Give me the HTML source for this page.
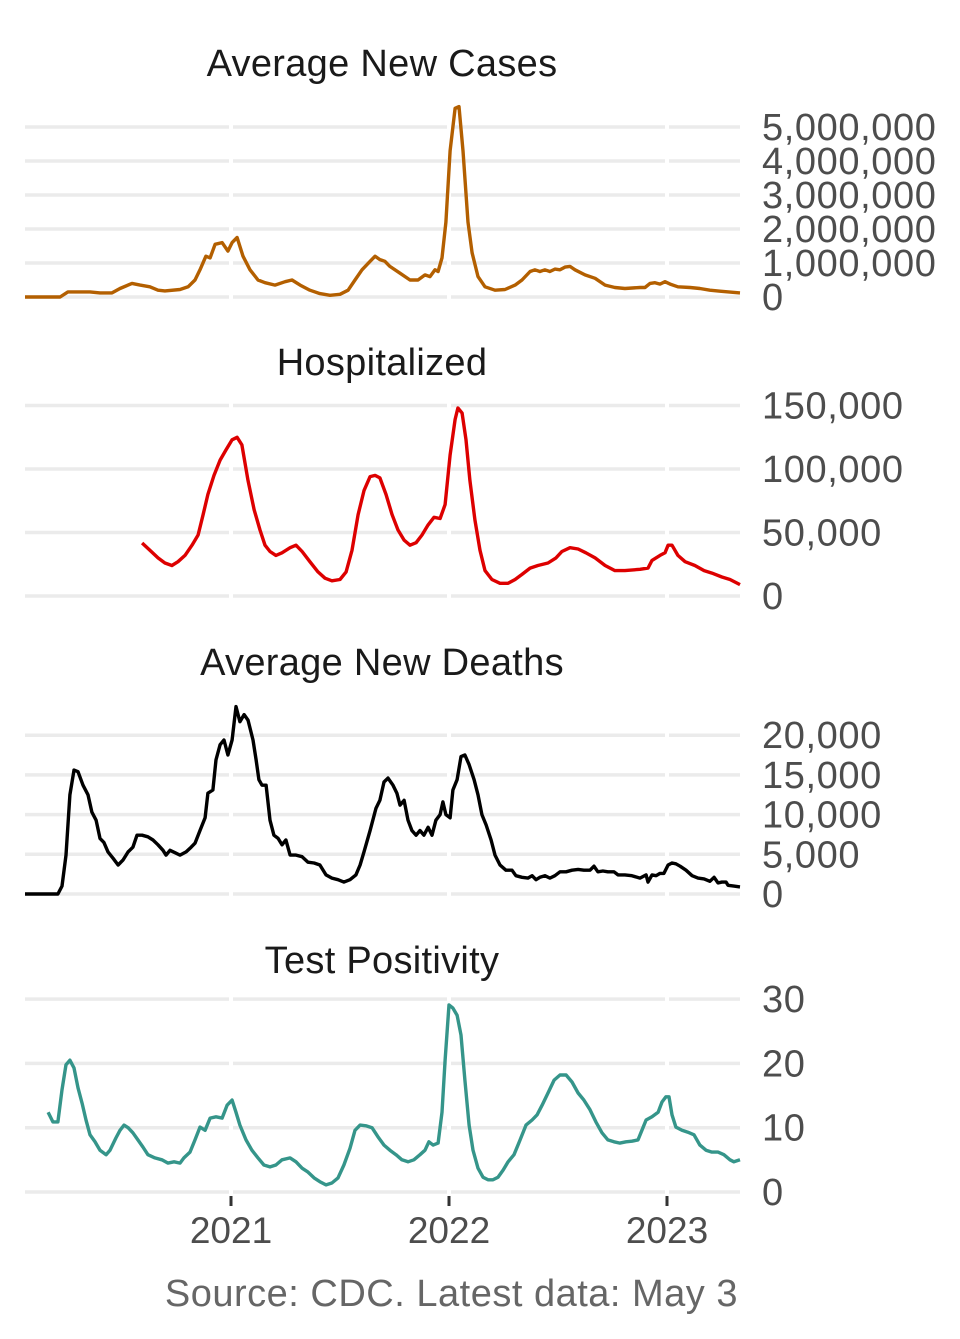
<!DOCTYPE html>
<html><head><meta charset="utf-8"><style>
html,body{margin:0;padding:0;background:#fff;}
svg{display:block;font-family:"Liberation Sans",sans-serif;}
</style></head><body>
<svg id="chart" width="960" height="1339" viewBox="0 0 960 1339" xmlns="http://www.w3.org/2000/svg"></svg>
<script>
// ---- data ----
const casesDates=[2020.055,2020.216,2020.252,2020.353,2020.399,2020.454,2020.491,2020.546,2020.583,2020.628,2020.665,2020.697,2020.766,2020.803,2020.835,2020.858,2020.885,2020.904,2020.927,2020.959,2020.986,2021.005,2021.028,2021.055,2021.087,2021.124,2021.156,2021.202,2021.248,2021.280,2021.317,2021.362,2021.408,2021.454,2021.5,2021.537,2021.569,2021.601,2021.638,2021.661,2021.683,2021.706,2021.729,2021.775,2021.821,2021.858,2021.890,2021.913,2021.936,2021.950,2021.968,2021.986,2022.005,2022.028,2022.046,2022.064,2022.087,2022.106,2022.133,2022.165,2022.211,2022.257,2022.303,2022.335,2022.372,2022.394,2022.417,2022.440,2022.463,2022.486,2022.509,2022.532,2022.555,2022.578,2022.624,2022.670,2022.716,2022.761,2022.807,2022.876,2022.899,2022.922,2022.945,2022.968,2022.991,2023.014,2023.050,2023.106,2023.151,2023.197,2023.243,2023.335];
const casesValues=[0,0,150000,150000,120000,120000,250000,400000,350000,300000,200000,180000,220000,300000,500000,800000,1200000,1150000,1550000,1600000,1350000,1600000,1750000,1200000,800000,500000,420000,350000,450000,500000,350000,200000,100000,50000,80000,200000,500000,800000,1050000,1200000,1100000,1050000,900000,700000,500000,500000,650000,600000,800000,750000,1150000,2200000,4300000,5550000,5600000,4300000,2200000,1300000,600000,300000,200000,220000,350000,500000,750000,800000,750000,800000,750000,820000,800000,880000,900000,800000,650000,550000,350000,280000,250000,280000,280000,400000,420000,380000,450000,380000,300000,280000,250000,200000,170000,120000];
const hospDates=[2020.592,2020.628,2020.665,2020.697,2020.729,2020.757,2020.789,2020.821,2020.849,2020.872,2020.894,2020.922,2020.950,2020.977,2021.005,2021.028,2021.050,2021.078,2021.106,2021.133,2021.156,2021.179,2021.206,2021.234,2021.271,2021.298,2021.326,2021.362,2021.399,2021.431,2021.463,2021.5,2021.528,2021.555,2021.583,2021.610,2021.638,2021.661,2021.683,2021.711,2021.739,2021.766,2021.794,2021.821,2021.849,2021.876,2021.904,2021.931,2021.959,2021.982,2022.005,2022.028,2022.041,2022.060,2022.078,2022.096,2022.119,2022.142,2022.165,2022.197,2022.234,2022.271,2022.303,2022.335,2022.372,2022.408,2022.454,2022.491,2022.518,2022.555,2022.592,2022.628,2022.670,2022.716,2022.761,2022.807,2022.876,2022.913,2022.931,2022.968,2022.991,2023.005,2023.023,2023.050,2023.083,2023.128,2023.170,2023.206,2023.252,2023.289,2023.335];
const hospValues=[41700,36000,30000,26000,24000,27000,32000,40000,48000,64000,80000,95000,107000,115000,123000,125000,119000,91000,68000,52000,40000,35000,32000,34000,38000,40000,35000,27000,19000,14000,12000,13000,19000,36000,64000,83000,94000,95000,93000,80000,64000,52000,44000,40000,42000,48000,56000,62000,61000,72000,111000,139000,148000,144000,123000,91000,60000,36000,20000,13000,10000,10000,13000,17000,22000,24000,26000,30000,35000,38000,37000,34000,30000,24000,20000,20000,21000,22000,28000,32000,34000,40000,40000,32000,27000,24000,20000,18000,15000,13000,9000];
const deathDates=[2020.055,2020.206,2020.225,2020.243,2020.261,2020.280,2020.298,2020.321,2020.344,2020.362,2020.381,2020.399,2020.417,2020.436,2020.459,2020.482,2020.505,2020.528,2020.550,2020.569,2020.592,2020.619,2020.642,2020.665,2020.688,2020.702,2020.720,2020.743,2020.766,2020.794,2020.817,2020.835,2020.858,2020.881,2020.894,2020.917,2020.931,2020.950,2020.968,2020.986,2021.005,2021.023,2021.041,2021.060,2021.078,2021.101,2021.115,2021.128,2021.142,2021.161,2021.179,2021.197,2021.216,2021.234,2021.252,2021.271,2021.298,2021.326,2021.353,2021.381,2021.408,2021.436,2021.463,2021.491,2021.518,2021.546,2021.573,2021.592,2021.610,2021.638,2021.665,2021.683,2021.702,2021.720,2021.743,2021.761,2021.775,2021.794,2021.812,2021.830,2021.849,2021.867,2021.885,2021.904,2021.922,2021.940,2021.959,2021.972,2021.986,2022.005,2022.018,2022.037,2022.055,2022.073,2022.092,2022.115,2022.133,2022.151,2022.170,2022.193,2022.211,2022.234,2022.261,2022.289,2022.307,2022.335,2022.362,2022.381,2022.399,2022.417,2022.440,2022.463,2022.486,2022.509,2022.537,2022.564,2022.592,2022.619,2022.647,2022.665,2022.683,2022.706,2022.729,2022.757,2022.775,2022.807,2022.839,2022.876,2022.904,2022.913,2022.931,2022.950,2022.968,2022.986,2023.005,2023.023,2023.041,2023.060,2023.087,2023.115,2023.142,2023.170,2023.197,2023.216,2023.234,2023.252,2023.271,2023.280,2023.307,2023.335];
const deathValues=[0,0,1000,4900,12500,15600,15400,13700,12500,10300,9300,7000,6500,5300,4500,3650,4300,5300,5900,7400,7400,7200,6800,6200,5500,4900,5500,5200,4900,5300,5900,6400,8000,9600,12700,13100,16900,18800,19400,17500,19400,23600,21700,22600,21900,19400,16900,14400,13700,13700,9300,7400,7000,6200,6800,4900,4900,4700,4000,3900,3650,2400,2000,1800,1500,1800,2400,3650,5300,8000,10800,11800,14100,14600,13700,12700,11200,11800,9300,8000,7400,8000,7400,8400,7400,9300,10000,11600,10000,9600,13100,14400,17300,17500,16300,14400,12500,10000,8700,6800,4900,3650,3000,3000,2300,2100,2000,2300,1800,2100,2300,2000,2300,2800,2800,3000,3100,3000,3000,3500,2800,2900,2800,2800,2400,2400,2300,2000,2400,1500,2400,2300,2600,2600,3650,3900,3800,3500,3000,2300,2000,1900,1600,2100,1400,1500,1500,1100,1000,900];
const posDates=[2020.161,2020.183,2020.206,2020.225,2020.243,2020.261,2020.280,2020.298,2020.317,2020.335,2020.353,2020.376,2020.399,2020.427,2020.445,2020.472,2020.491,2020.509,2020.528,2020.550,2020.573,2020.596,2020.619,2020.651,2020.683,2020.711,2020.739,2020.766,2020.784,2020.812,2020.835,2020.858,2020.881,2020.904,2020.931,2020.959,2020.982,2021.005,2021.023,2021.041,2021.069,2021.096,2021.124,2021.151,2021.179,2021.206,2021.234,2021.271,2021.298,2021.326,2021.353,2021.381,2021.408,2021.436,2021.463,2021.491,2021.518,2021.546,2021.569,2021.592,2021.619,2021.647,2021.674,2021.702,2021.729,2021.757,2021.784,2021.812,2021.839,2021.867,2021.890,2021.908,2021.927,2021.950,2021.968,2021.982,2022.0,2022.018,2022.037,2022.055,2022.073,2022.092,2022.110,2022.133,2022.156,2022.179,2022.202,2022.225,2022.248,2022.271,2022.298,2022.326,2022.353,2022.381,2022.404,2022.427,2022.454,2022.482,2022.509,2022.537,2022.564,2022.592,2022.619,2022.647,2022.674,2022.702,2022.729,2022.757,2022.784,2022.812,2022.839,2022.867,2022.885,2022.904,2022.931,2022.959,2022.977,2022.995,2023.009,2023.023,2023.041,2023.069,2023.096,2023.124,2023.151,2023.179,2023.206,2023.234,2023.261,2023.289,2023.307,2023.335];
const posValues=[12.4,10.9,10.9,15.9,19.8,20.5,19.3,16.2,13.8,11.2,8.9,7.8,6.5,5.8,6.5,8.4,9.6,10.4,10,9.2,8.1,7,5.8,5.3,5,4.5,4.7,4.5,5.3,6.2,8.1,10.1,9.6,11.5,11.7,11.5,13.5,14.3,12.4,10.4,8.1,6.5,5.3,4.2,3.9,4.2,5,5.3,4.7,3.7,3.1,2.2,1.6,1.1,1.4,2.2,4.2,6.8,9.6,10.4,10.3,10,8.6,7.3,6.5,5.8,5,4.7,5,5.8,6.5,7.8,7.3,7.6,12.4,20.5,29.1,28.6,27.5,24.4,17.4,10.4,6.5,3.7,2.3,1.9,1.9,2.3,3.4,4.7,5.8,8.1,10.4,11.2,12,13.5,15.4,17.4,18.2,18.2,17.1,15.4,14.3,12.8,10.9,9.2,8.1,7.8,7.6,7.8,7.9,8.1,9.6,11.2,11.7,12.4,14,14.8,14.8,12,10.1,9.6,9.3,8.9,7.3,6.5,6.2,6.2,5.8,5,4.7,5];
const casesTicks=[0,1000000,2000000,3000000,4000000,5000000];
const casesTickLabels=["0","1,000,000","2,000,000","3,000,000","4,000,000","5,000,000"];
const hospTicks=[0,50000,100000,150000];
const hospTickLabels=["0","50,000","100,000","150,000"];
const deathTicks=[0,5000,10000,15000,20000];
const deathTickLabels=["0","5,000","10,000","15,000","20,000"];
const posTicks=[0,10,20,30];
const posTickLabels=["0","10","20","30"];
const yearTicks=[2021,2022,2023];
const yearLabels=["2021","2022","2023"];

// ---- layout ----
const svg=document.getElementById('chart');
const NS='http://www.w3.org/2000/svg';
const X0=25,X1=740;
const xScale=t=>231+(t-2021)*218;
function el(tag,attrs,parent){const e=document.createElementNS(NS,tag);for(const k in attrs)e.setAttribute(k,attrs[k]);(parent||svg).appendChild(e);return e;}

function panel(key,title,titleY,zeroY,pxPerUnit,ticks,labels,dates,values,color){
  const g=el('g',{});
  
  
  const y=v=>zeroY-v*pxPerUnit;
  ticks.forEach((tv,i)=>{
    const gl=el('line',{x1:X0,x2:X1,y1:y(tv),y2:y(tv),stroke:'#ebebeb','stroke-width':3.5},g);
    
    
    const lb=el('text',{x:762,y:y(tv)+13,'font-size':38,fill:'#4d4d4d','letter-spacing':'0.6'},g);
    
    
    lb.textContent=labels[i];
  });
  yearTicks.forEach(yr=>{
    const vl=el('line',{x1:xScale(yr),x2:xScale(yr),y1:y(ticks[ticks.length-1])-6,y2:zeroY+6,stroke:'#fff','stroke-width':4},g);
    
    
  });
  const tt=el('text',{x:382,y:titleY,'font-size':38,fill:'#1a1a1a','text-anchor':'middle','letter-spacing':'0.3'},g);
  
  
  tt.textContent=title;
  const d=dates.map((t,i)=>(i?'L':'M')+xScale(t).toFixed(1)+','+y(values[i]).toFixed(1)).join('');
  const p=el('path',{d:d,fill:'none',stroke:color,'stroke-width':3.4,'stroke-linejoin':'round'},g);
  
  
}
panel('cases','Average New Cases',76,297,34/1000000,casesTicks,casesTickLabels,casesDates,casesValues,'#b35f00');
panel('hospitalized','Hospitalized',375,596,63.5/50000,hospTicks,hospTickLabels,hospDates,hospValues,'#dd0000');
panel('deaths','Average New Deaths',675,894,39.7/5000,deathTicks,deathTickLabels,deathDates,deathValues,'#000000');
panel('positivity','Test Positivity',973,1192,64.3/10,posTicks,posTickLabels,posDates,posValues,'#35958a');

yearTicks.forEach((yr,i)=>{
  const tk=el('line',{x1:xScale(yr),x2:xScale(yr),y1:1196,y2:1206,stroke:'#333','stroke-width':3});
  
  
  const lb=el('text',{x:xScale(yr),y:1243,'font-size':37,fill:'#4d4d4d','text-anchor':'middle'});
  
  
  lb.textContent=yearLabels[i];
});
const src=el('text',{x:738,y:1306,'font-size':38,fill:'#666','text-anchor':'end','letter-spacing':'0.5'});


src.textContent='Source: CDC. Latest data: May 3';
</script>
</body></html>
